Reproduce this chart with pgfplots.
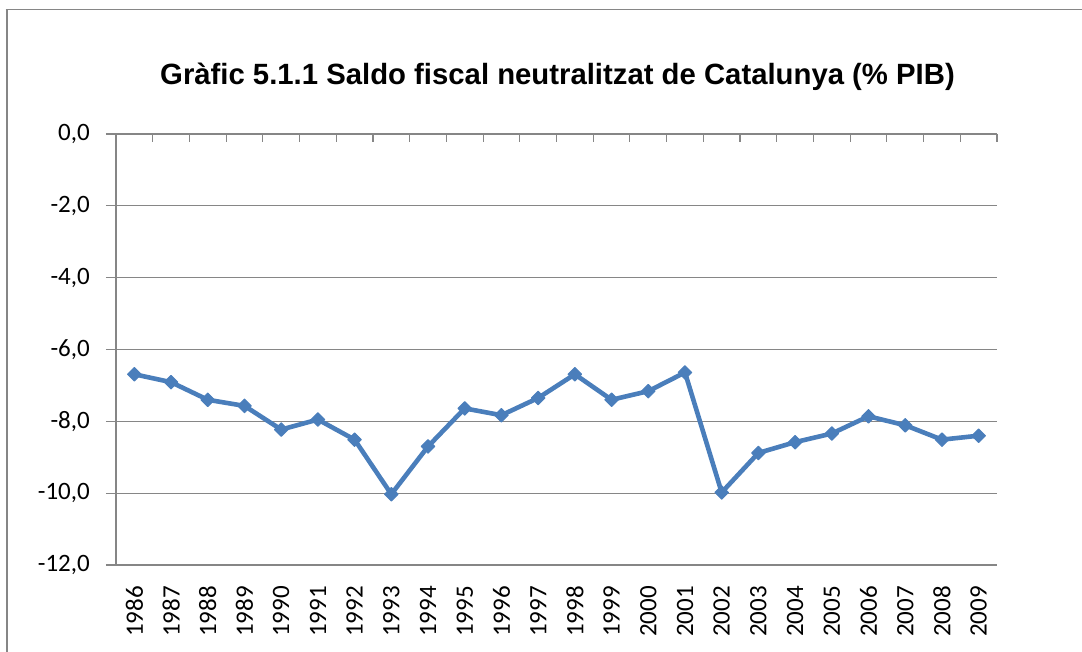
\documentclass[border=0pt]{standalone}
\usepackage{pgfplots}
\pgfplotsset{compat=1.18}
\usepackage{fontspec}
\setmainfont{Carlito}
\newfontfamily\titlefont{Liberation Sans}
\definecolor{linec}{HTML}{4A7EBB}
\definecolor{gridc}{HTML}{868686}
\begin{document}
\begin{tikzpicture}
\path[use as bounding box] (0pt,0pt) rectangle (1082pt,652pt);
\draw[gridc, line width=2pt] (6.5pt,0pt) -- (6.5pt,642.5pt);
\draw[gridc, line width=1.3pt] (5.5pt,642.5pt) -- (1082pt,642.5pt);
\node[anchor=base, font=\titlefont\bfseries\fontsize{29.3}{35}\selectfont] at (557.5pt,567pt) {Gràfic 5.1.1 Saldo fiscal neutralitzat de Catalunya (\% PIB)};
\begin{axis}[
  at={(116pt,87pt)}, anchor=south west,
  scale only axis, width=881pt, height=431pt,
  xmin=-0.5, xmax=23.5, ymin=-12, ymax=0,
  axis line style={draw=none},
  xtick={-0.5,0.5,...,23.5},
  x tick label as interval,
  xticklabels={1986,1987,1988,1989,1990,1991,1992,1993,1994,1995,1996,1997,1998,1999,2000,2001,2002,2003,2004,2005,2006,2007,2008,2009},
  ytick={-12,-10,...,0},
  yticklabels={{-12,0},{-10,0},{-8,0},{-6,0},{-4,0},{-2,0},{0,0}},
  ymajorgrids, grid style={gridc, line width=1.1pt},
  xmajorgrids=false,
  ytick pos=left, xtick pos=left, xticklabel pos=left,
  tick align=outside,
  major tick length=10pt,
  xtick style={draw=none},
  ytick style={gridc, line width=1.1pt},
  xticklabel shift=11pt,
  yticklabel shift=16pt,
  xticklabel style={rotate=90, anchor=east, inner sep=0pt, font=\fontsize{25}{30}\selectfont},
  yticklabel style={anchor=east, inner sep=0pt, font=\fontsize{25}{30}\selectfont},
  clip=false,
]
\draw[gridc, line width=1.1pt] (rel axis cs:0,0) -- (rel axis cs:0,1);
\pgfplotsinvokeforeach{-0.5,0.5,...,23.5}{
  \draw[gridc, line width=1.1pt] (axis cs:#1,0) -- ++(0pt,-8pt);
}
\addplot[linec, line width=4.6pt, line join=round, mark=square*, mark size=4.8pt,
  mark options={rotate=45, fill=linec, line width=1pt}] coordinates {
(0,-6.69) (1,-6.91) (2,-7.40) (3,-7.57) (4,-8.23) (5,-7.95) (6,-8.51) (7,-10.03)
(8,-8.70) (9,-7.64) (10,-7.83) (11,-7.35) (12,-6.69) (13,-7.40) (14,-7.16) (15,-6.64)
(16,-9.98) (17,-8.88) (18,-8.58) (19,-8.34) (20,-7.86) (21,-8.11) (22,-8.51) (23,-8.40)};
\end{axis}
\end{tikzpicture}
\end{document}
